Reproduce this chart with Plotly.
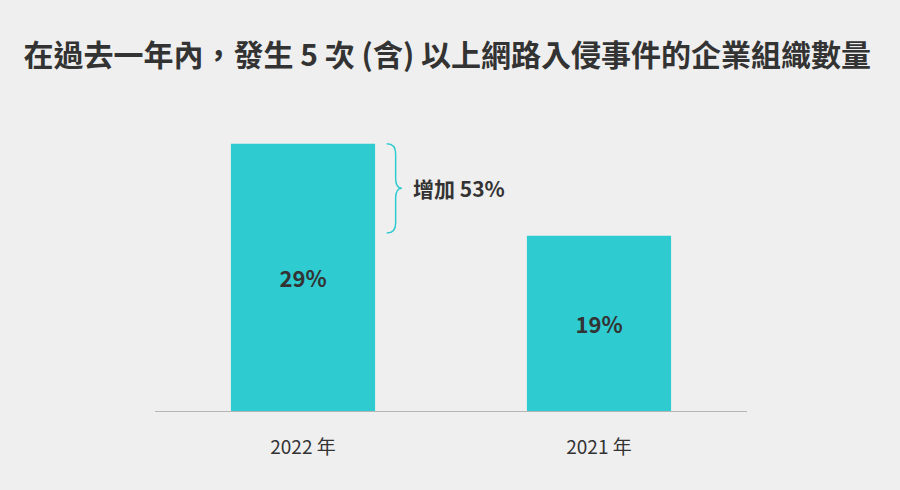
import plotly.graph_objects as go

categories = ["2022 年", "2021 年"]
values = [29, 19]
bar_labels = ["29%", "19%"]
increase_label = "增加 53%"
title_text = "在過去一年內，發生 5 次 (含) 以上網路入侵事件的企業組織數量"

BAR = "#2ecbd1"
TXT = "#333333"
BG = "#efefef"
FONT = "Noto Sans CJK TC"

fig = go.Figure()
fig.add_trace(go.Bar(
    x=categories, y=values, text=bar_labels,
    textposition="inside", insidetextanchor="middle",
    textfont=dict(family=FONT, size=22, color=TXT, weight="bold"),
    marker=dict(color=BAR, line=dict(width=0)),
    hoverinfo="skip", textangle=0,
))

# brace between the two bar heights (paper x, data y)
top, bot = values[0], values[1] + 0.3
mid = (top + bot) / 2
x0, x1, x2 = 0.3915, 0.4065, 0.417
r = 1.1
path = (f"M {x0},{top} Q {x1},{top} {x1},{top - r} "
        f"L {x1},{mid + r} Q {x1},{mid} {x2},{mid} "
        f"Q {x1},{mid} {x1},{mid - r} "
        f"L {x1},{bot + r} Q {x1},{bot} {x0},{bot}")
fig.add_shape(type="path", path=path, xref="paper", yref="y",
              line=dict(color=BAR, width=1.5))
fig.add_annotation(x=0.433, y=mid, xref="paper", yref="y",
                   text=increase_label, showarrow=False,
                   xanchor="left", yanchor="middle",
                   font=dict(family=FONT, size=21, color=TXT, weight="bold"))

fig.update_layout(
    width=900, height=490,
    paper_bgcolor=BG, plot_bgcolor=BG,
    margin=dict(l=155, r=153, t=116, b=79),
    bargap=0.513,
    showlegend=False,
    title=dict(text=title_text, x=0.497, xref="container", xanchor="center",
               y=1 - 55 / 490, yref="container", yanchor="middle",
               font=dict(family=FONT, size=30, color=TXT, weight="bold")),
    xaxis=dict(showline=True, linecolor="#b5b5b5", linewidth=1,
               ticks="outside", ticklen=19, tickcolor=BG,
               tickfont=dict(family=FONT, size=19, color=TXT),
               showgrid=False, zeroline=False, fixedrange=True),
    yaxis=dict(range=[0, 32], visible=False, showgrid=False, zeroline=False,
               fixedrange=True),
)

fig.write_html(
    "out.html",
    config={"displayModeBar": False},
    post_script="document.body.style.margin='0';"
                "document.body.style.background='" + BG + "';",
)
